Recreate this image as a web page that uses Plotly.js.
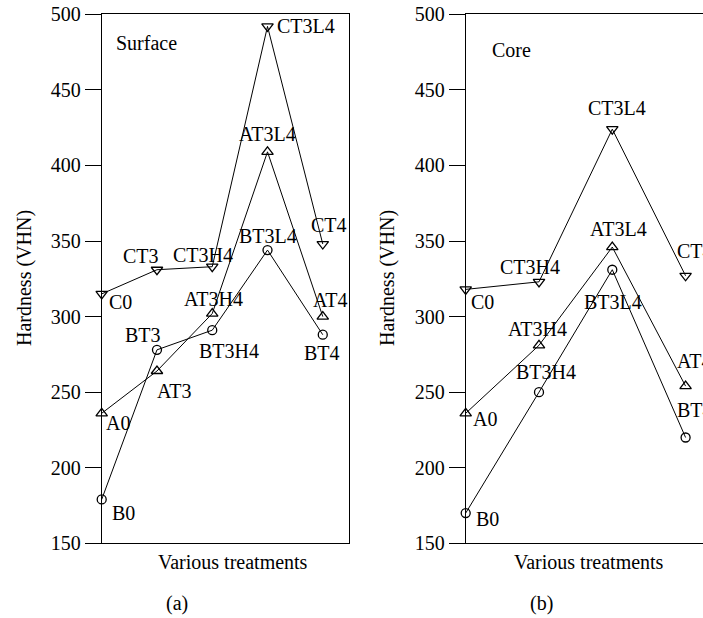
<!DOCTYPE html>
<html>
<head>
<meta charset="utf-8">
<script src="https://cdn.plot.ly/plotly-3.0.1.min.js"></script>
<style>
html,body{margin:0;padding:0;overflow:hidden;background:#fff;}
#chart{width:760px;height:618px;}
</style>
</head>
<body>
<div id="chart"></div>
<script>
// ---- Data: Surface (a) ----
const surfLabelsC = ['C0','CT3','CT3H4','CT3L4','CT4'];
const surfC = [315, 331, 333, 492, 348];
const surfLabelsA = ['A0','AT3','AT3H4','AT3L4','AT4'];
const surfA = [236, 264, 302, 409, 300];
const surfLabelsB = ['B0','BT3','BT3H4','BT3L4','BT4'];
const surfB = [179, 278, 291, 344, 288];

// ---- Data: Core (b) ----
const coreLabelsC = ['C0','CT3H4','CT3L4','CT4'];
const coreC = [318, 323, 424, 327];
const coreLabelsA = ['A0','AT3H4','AT3L4','AT4'];
const coreA = [236, 281, 346, 254];
const coreLabelsB = ['B0','BT3H4','BT3L4','BT4'];
const coreB = [170, 250, 331, 220];

const yTickVals = [150, 200, 250, 300, 350, 400, 450, 500];

// ---- Label placement (style): [dx, dy(down), anchor] ----
const surfOffC = [[5,8,'left'],[-16,-14,'center'],[-9,-12,'center'],[7,0,'left'],[6,-19,'center']];
const surfOffA = [[2,10,'left'],[-2,20,'left'],[1,-15,'center'],[0,-18,'center'],[7,-17,'center']];
const surfOffB = [[8,14,'left'],[-14,-15,'center'],[17,21,'center'],[0,-14,'center'],[-1,18,'center']];
const coreOffC = [[3,13,'left'],[-9,-15,'center'],[5,-21,'center'],[-11,-25,'left']];
const coreOffA = [[5,6,'left'],[-1,-16,'center'],[6,-18,'center'],[-11,-25,'left']];
const coreOffB = [[8,6,'left'],[7,-20,'center'],[1,32,'center'],[-11,-28,'left']];

const W = 760, H = 618;
const FONT = 'Liberation Serif, Times New Roman, serif';
const FS = 20;
const px = v => v / W;
const py = v => 1 - v / H;

function idx(arr){ return arr.map((_, i) => i); }

function series(vals, symbol, size, xa, ya){
  return {
    x: idx(vals), y: vals, xaxis: xa, yaxis: ya,
    type: 'scatter', mode: 'lines+markers', cliponaxis: false,
    line: {color: '#000', width: 1},
    marker: {symbol: symbol, size: size, color: '#000', line: {color: '#000', width: 1.3}},
    hoverinfo: 'skip', showlegend: false
  };
}

const traces = [
  series(surfC, 'triangle-down-open', 10, 'x', 'y'),
  series(surfA, 'triangle-up-open', 10, 'x', 'y'),
  series(surfB, 'circle-open', 9, 'x', 'y'),
  series(coreC, 'triangle-down-open', 10, 'x2', 'y2'),
  series(coreA, 'triangle-up-open', 10, 'x2', 'y2'),
  series(coreB, 'circle-open', 9, 'x2', 'y2')
];

const annotations = [];
function addLabels(labels, vals, offs, xr, yr){
  labels.forEach((t, i) => {
    const o = offs[i];
    annotations.push({
      x: i, y: vals[i], xref: xr, yref: yr, text: t, showarrow: false,
      xanchor: o[2], yanchor: 'middle', xshift: o[0], yshift: -o[1],
      font: {family: FONT, size: FS, color: '#000'}
    });
  });
}
addLabels(surfLabelsC, surfC, surfOffC, 'x', 'y');
addLabels(surfLabelsA, surfA, surfOffA, 'x', 'y');
addLabels(surfLabelsB, surfB, surfOffB, 'x', 'y');
addLabels(coreLabelsC, coreC, coreOffC, 'x2', 'y2');
addLabels(coreLabelsA, coreA, coreOffA, 'x2', 'y2');
addLabels(coreLabelsB, coreB, coreOffB, 'x2', 'y2');

function paperText(t, x, y, xanchor, angle){
  annotations.push({
    x: px(x), y: py(y), xref: 'paper', yref: 'paper', text: t, showarrow: false,
    xanchor: xanchor || 'center', yanchor: 'middle', textangle: angle || 0,
    font: {family: FONT, size: FS, color: '#000'}
  });
}
paperText('Surface', 114, 43, 'left');
paperText('Core', 490, 50, 'left');
paperText('Various treatments', 233, 562);
paperText('Various treatments', 589, 562);
paperText('(a)', 177, 603);
paperText('(b)', 541, 603);
paperText('Hardness (VHN)', 24, 278, 'center', -90);
paperText('Hardness (VHN)', 387, 278, 'center', -90);

const yDom = [py(543.3), py(14.3)];
function xAxis(domain, range){
  return {domain: domain, range: range, showticklabels: false, ticks: '', showgrid: false,
    zeroline: false, showline: true, mirror: true, linecolor: '#000', linewidth: 1, fixedrange: true};
}
function yAxis(anchor){
  return {domain: yDom, range: [150, 500], tickvals: yTickVals, ticks: 'outside', ticklen: 16,
    tickwidth: 1, tickcolor: '#000', showgrid: false, zeroline: false, showline: true,
    mirror: true, linecolor: '#000', linewidth: 1, anchor: anchor,
    tickfont: {family: FONT, size: FS, color: '#000'}, fixedrange: true};
}

const layout = {
  width: W, height: H,
  margin: {l: 0, r: 0, t: 0, b: 0},
  paper_bgcolor: '#fff', plot_bgcolor: '#fff',
  showlegend: false,
  xaxis: Object.assign(xAxis([px(101.7), px(349.3)], [0, 4.48]), {anchor: 'y'}),
  yaxis: yAxis('x'),
  xaxis2: Object.assign(xAxis([px(465.7), px(713)], [0, 3.374]), {anchor: 'y2'}),
  yaxis2: yAxis('x2'),
  annotations: annotations,
  font: {family: FONT, size: FS, color: '#000'}
};

Plotly.newPlot('chart', traces, layout, {displayModeBar: false, staticPlot: true});
</script>
</body>
</html>
